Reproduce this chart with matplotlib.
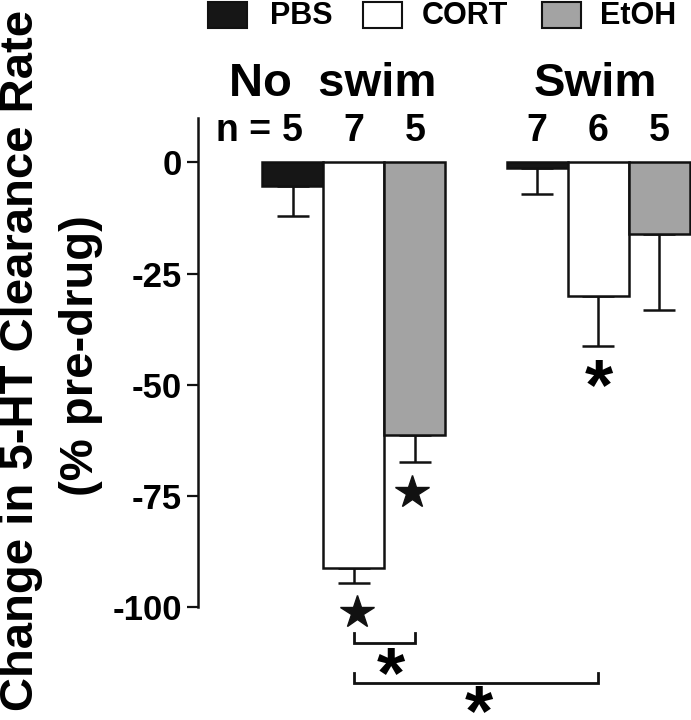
import matplotlib
matplotlib.use("Agg")
import matplotlib.pyplot as plt
from matplotlib.patches import Rectangle
import numpy as np

plt.rcParams['font.family'] = ['Liberation Sans', 'DejaVu Sans']
plt.rcParams['font.weight'] = 'bold'
plt.rcParams['axes.unicode_minus'] = False

# ---- data ----
treatments = ["PBS", "CORT", "EtOH"]
groups = ["No  swim", "Swim"]
noswim_mean = [-5.4, -91.3, -61.2]
noswim_sem = [6.7, 3.2, 6.1]
swim_mean = [-1.2, -30.1, -16.2]
swim_sem = [6.0, 11.1, 16.9]
noswim_n = ["5", "7", "5"]
swim_n = ["7", "6", "5"]
yticks = [0, -25, -50, -75, -100]
ytick_labels = ["0", "-25", "-50", "-75", "-100"]
ylabel_line1 = "Change in 5-HT Clearance Rate"
ylabel_line2 = "(% pre-drug)"

colors = ["#161616", "#ffffff", "#a3a3a3"]

W, H = 691, 720
fig = plt.figure(figsize=(W / 100, H / 100), dpi=100)
ax = fig.add_axes([198 / W, 1 - 607 / H, (691 - 198) / W, (607 - 118) / H])

x_noswim = np.array([0, 1, 2])
x_swim = np.array([4, 5, 6])
xs = np.concatenate([x_noswim, x_swim])
means = np.array(noswim_mean + swim_mean)
sems = np.array(noswim_sem + swim_sem)
cols = colors + colors

LW = 1.8
ax.errorbar(xs, means, yerr=[sems, np.zeros_like(sems)], fmt='none',
            ecolor='#111111', elinewidth=LW, capsize=11.5, capthick=LW, zorder=1)
ax.bar(xs, means, width=1.0, color=cols, edgecolor='#111111', linewidth=LW, zorder=2)

ax.set_xlim(-1.55, 6.52)
ax.set_ylim(-100, 10)
ax.set_yticks(yticks)
ax.set_yticklabels(ytick_labels, fontsize=25, fontweight='bold')
ax.tick_params(axis='y', length=8, width=1.6, pad=3.5, color='#111111')
ax.set_xticks([])
for s in ['top', 'right', 'bottom']:
    ax.spines[s].set_visible(False)
ax.spines['left'].set_linewidth(1.8)
ax.spines['left'].set_color('#111111')

# group titles
ax.text(0.66, 17.6, groups[0], ha='center', va='center', fontsize=34,
        fontweight='bold', clip_on=False)
ax.text(4.95, 17.6, groups[1], ha='center', va='center', fontsize=34,
        fontweight='bold', clip_on=False)

# n row
ax.text(-0.35, 7.0, "n =", ha='right', va='center', fontsize=27,
        fontweight='bold', clip_on=False)
for x, n in zip(xs, noswim_n + swim_n):
    ax.text(x, 7.0, n, ha='center', va='center', fontsize=27,
            fontweight='bold', clip_on=False)

# stars
ax.plot([1.95], [-74.2], marker='*', ms=25, color='#111111', clip_on=False)
ax.plot([1.06], [-101.2], marker='*', ms=25, color='#111111', clip_on=False)

# asterisks (text; glyph sits above the text box centre, hence the offset)
for (x, y) in [(5.02, -51.2), (1.6, -116.0), (3.05, -124.6)]:
    ax.text(x, y, "*", ha='center', va='center', fontsize=52,
            fontweight='bold', clip_on=False)

# brackets
for (x0, x1, ytop, ybot) in [(1.0, 2.0, -105.8, -108.1), (1.0, 5.0, -114.8, -117.1)]:
    ax.plot([x0, x0, x1, x1], [ytop, ybot, ybot, ytop], color='#111111',
            lw=2.0, clip_on=False, solid_joinstyle='miter')

# legend
leg_items = [(208, 270, colors[0], treatments[0]),
             (363, 422, colors[1], treatments[1]),
             (542, 600, colors[2], treatments[2])]
for (bx, tx, c, lab) in leg_items:
    fig.add_artist(Rectangle((bx / W, 1 - 28 / H), 39 / W, 26 / H,
                             transform=fig.transFigure, facecolor=c,
                             edgecolor='#111111', linewidth=1.5))
    fig.text(tx / W, 1 - 16 / H, lab, ha='left', va='center', fontsize=22,
             fontweight='bold')

# y label
fig.text(21 / W, 1 - 360 / H, ylabel_line1, rotation=90, ha='center',
         va='center', fontsize=34, fontweight='bold')
fig.text(81 / W, 1 - 356 / H, ylabel_line2, rotation=90, ha='center',
         va='center', fontsize=34, fontweight='bold')

fig.savefig("out.png", dpi=100)
